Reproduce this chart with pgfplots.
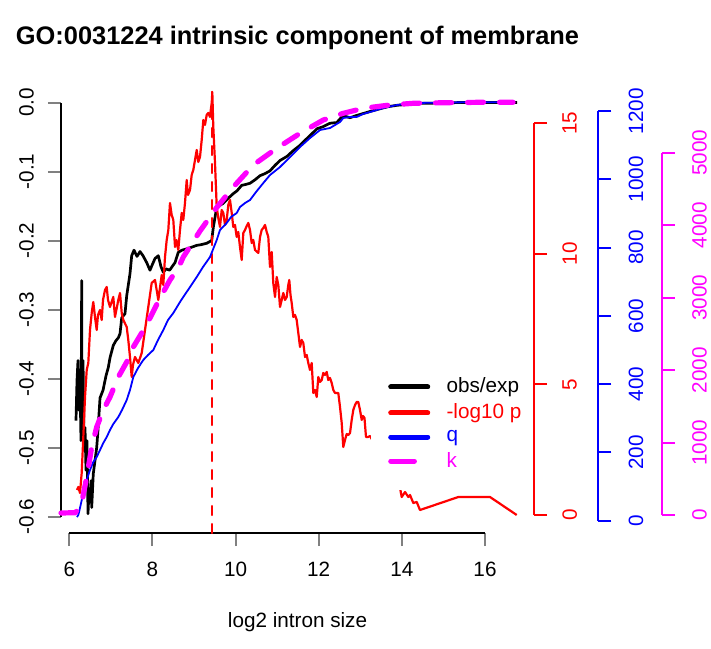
\documentclass[border=0pt]{standalone}
\usepackage{fontspec}
\setmainfont{Liberation Sans}
\usepackage{pgfplots}
\pgfplotsset{compat=1.18}
\definecolor{rred}{RGB}{255,0,0}
\definecolor{rblue}{RGB}{0,0,255}
\definecolor{rmag}{RGB}{255,0,255}

% 1 px of the reference = 0.5pt
\pgfplotsset{
  rbase/.style={
    scale only axis,
    font=\fontsize{10.35}{12.4}\selectfont,
    tick align=outside,
    major tick length=6.5pt,
    xmin=5.8003,
    every tick/.append style={line width=1pt},
  },
  rright/.style={
    rbase,
    axis x line=none,
    axis y line*=right,
    y axis line style={-, line width=1pt, #1},
    ytick style={#1},
    yticklabel style={rotate=90, anchor=north, inner sep=0pt, text=#1},
  },
  limg/.style 2 args={legend image code/.code={
    \path[draw=none, fill=none] (-8.5pt,0pt) -- (21pt,0pt);
    \draw[#1, solid, line width=2.5pt, line cap=round] (1.25pt,0pt) -- (#2,0pt);}},
}

\begin{document}
\begin{tikzpicture}
\useasboundingbox (0,0) rectangle (355.5pt,324pt);

% left axis: obs/exp
\begin{axis}[rbase,
  at={(30.5pt,57.45pt)}, width=236.525pt, height=223.56pt,
  xmax=17.18, ymin=-0.624, ymax=0.024,
  axis x line*=bottom, axis y line*=left,
  x axis line style={-, line width=1pt, shorten <=4.15pt, shorten >=24.5pt},
  y axis line style={-, line width=1pt, shorten <=8.28pt, shorten >=8.28pt},
  xtick={6,8,10,12,14,16}, xticklabels={6,8,10,12,14,16},
  ytick={-0.6,-0.5,-0.4,-0.3,-0.2,-0.1,0},
  yticklabels={-0.6,-0.5,-0.4,-0.3,-0.2,-0.1,0.0},
  yticklabel style={rotate=90, anchor=south, inner sep=0pt},
  yticklabel shift=6.85pt,
  xticklabel style={anchor=north, inner sep=0pt},
  xticklabel shift=7.75pt,
  title={GO:0031224 intrinsic component of membrane},
  title style={font=\bfseries\fontsize{12.7}{15}\selectfont,
    at={(axis description cs:0.5,1)}, anchor=base, yshift=14.95pt},
  xlabel={log2 intron size},
  xlabel style={at={(axis description cs:0.5,0)}, anchor=base, yshift=-47pt},
]
\addplot[black, line width=1.35pt, line join=round] coordinates {
(6.161,-0.461) (6.185,-0.403) (6.209,-0.374) (6.233,-0.446) (6.257,-0.403)
(6.281,-0.490) (6.298,-0.258) (6.306,-0.461) (6.330,-0.374) (6.354,-0.490)
(6.378,-0.471) (6.402,-0.533) (6.426,-0.490) (6.450,-0.596) (6.474,-0.562)
(6.498,-0.577) (6.522,-0.548) (6.539,-0.587) (6.577,-0.538) (6.659,-0.500)
(6.690,-0.475) (6.739,-0.428) (6.811,-0.417) (6.883,-0.396) (6.938,-0.384)
(6.979,-0.370) (7.058,-0.352) (7.123,-0.345) (7.179,-0.341) (7.220,-0.335)
(7.261,-0.312) (7.340,-0.306) (7.381,-0.280) (7.460,-0.248) (7.501,-0.222)
(7.556,-0.214) (7.629,-0.223) (7.701,-0.216) (7.773,-0.222) (7.862,-0.232)
(7.941,-0.243) (7.989,-0.236) (8.062,-0.226) (8.141,-0.222) (8.206,-0.238)
(8.261,-0.246) (8.326,-0.241) (8.413,-0.243) (8.495,-0.236) (8.543,-0.232)
(8.622,-0.217) (8.711,-0.214) (8.824,-0.212) (8.928,-0.210) (9.065,-0.207)
(9.168,-0.206) (9.305,-0.204) (9.426,-0.200) (9.464,-0.181) (9.546,-0.152)
(9.625,-0.149) (9.705,-0.146) (9.818,-0.139) (9.945,-0.132) (10.034,-0.128)
(10.147,-0.120) (10.227,-0.119) (10.347,-0.117) (10.467,-0.112) (10.588,-0.106)
(10.708,-0.103) (10.828,-0.099) (10.949,-0.091) (11.069,-0.084) (11.237,-0.078)
(11.381,-0.070) (11.550,-0.062) (11.718,-0.052) (11.839,-0.045) (11.959,-0.038)
(12.103,-0.035) (12.272,-0.030) (12.433,-0.029) (12.584,-0.019) (12.753,-0.022)
(12.897,-0.019) (13.065,-0.016) (13.234,-0.013) (13.474,-0.009) (13.667,-0.006)
(13.883,-0.004) (14.076,-0.003) (14.196,-0.001) (14.677,-0.001) (15.399,0)
(16.120,0) (16.770,0)
};
\end{axis}

% red axis: -log10 p
\begin{axis}[rright=rred,
  at={(30.5pt,66.5pt)}, width=236.525pt, height=196pt,
  xmax=17.18, ymin=0, ymax=15, clip=false,
  ytick={0,5,10,15}, yticklabels={0,5,10,15},
  yticklabel shift=7.5pt,
]
\addplot[rred, line width=1.1pt, line join=round] coordinates {
(6.185,0.957) (6.217,1.072) (6.257,0.842) (6.298,1.607) (6.337,2.985)
(6.378,4.516) (6.419,5.549) (6.457,5.817) (6.498,7.080) (6.539,7.731)
(6.577,8.152) (6.618,7.577) (6.659,7.080) (6.690,7.654) (6.739,7.845)
(6.779,7.463) (6.811,8.228) (6.859,8.611) (6.900,8.726) (6.931,8.228)
(6.979,7.960) (7.058,8.343) (7.099,7.577) (7.179,8.228) (7.220,8.496)
(7.261,7.731) (7.299,7.463) (7.381,7.195) (7.419,6.697) (7.460,6.047)
(7.501,5.281) (7.532,5.741) (7.580,6.047) (7.660,5.817) (7.742,6.200)
(7.821,7.080) (7.900,7.960) (7.982,8.879) (8.062,8.993) (8.141,8.228)
(8.223,9.185) (8.261,8.802) (8.302,9.874) (8.343,10.524) (8.382,10.907)
(8.422,11.940) (8.463,11.481) (8.502,11.290) (8.543,10.256) (8.579,10.524)
(8.622,10.142) (8.663,10.907) (8.704,11.558) (8.742,11.290) (8.783,11.940)
(8.824,12.820) (8.855,12.246) (8.904,12.438) (8.944,13.012) (8.983,13.203)
(9.024,13.586) (9.065,13.969) (9.103,13.509) (9.144,13.701) (9.185,14.351)
(9.224,15.117) (9.264,14.925) (9.305,15.308) (9.344,15.385) (9.385,15.231)
(9.409,15.576) (9.426,15.767) (9.440,16.188) (9.464,14.849) (9.505,13.471)
(9.546,11.787) (9.584,11.366) (9.625,11.022) (9.666,11.672) (9.705,11.558)
(9.746,11.098) (9.786,11.290) (9.825,11.864) (9.866,12.055) (9.907,11.558)
(9.945,11.022) (9.986,11.098) (10.027,10.639) (10.065,10.830) (10.106,10.256)
(10.147,9.759) (10.186,10.792) (10.227,10.907) (10.268,11.060) (10.306,11.175)
(10.347,10.907) (10.388,10.409) (10.426,10.524) (10.467,10.142) (10.547,10.027)
(10.588,10.639) (10.628,10.907) (10.667,10.983) (10.708,11.098) (10.749,10.830)
(10.787,10.639) (10.828,9.491) (10.869,10.065) (10.907,8.879) (10.949,8.343)
(10.989,9.108) (11.028,8.802) (11.069,7.960) (11.109,8.228) (11.148,8.496)
(11.189,8.228) (11.230,8.343) (11.268,8.802) (11.292,8.993) (11.321,8.419)
(11.350,8.113) (11.389,7.577) (11.429,7.654) (11.470,7.463) (11.509,6.965)
(11.550,6.429) (11.591,6.697) (11.629,6.582) (11.670,6.047) (11.711,6.123)
(11.749,5.817) (11.790,5.549) (11.831,5.817) (11.870,4.669) (11.911,4.784)
(11.952,4.516) (11.990,5.281) (12.031,5.090) (12.072,5.166) (12.110,5.434)
(12.151,5.358) (12.192,5.473) (12.230,5.166) (12.271,5.243) (12.312,5.052)
(12.351,4.784) (12.392,4.669) (12.433,4.669) (12.471,4.669) (12.512,4.133)
(12.553,3.521) (12.591,2.602) (12.632,2.870) (12.673,3.100) (12.712,3.062)
(12.753,3.138) (12.793,3.636) (12.832,4.018) (12.873,4.210) (12.913,4.325)
(12.952,4.325) (12.993,4.018) (13.034,3.636) (13.065,3.789) (13.101,3.712)
(13.137,2.985) (13.186,2.985) (13.234,3.023) (13.595,2.028) (13.956,1.033)
(13.996,0.689) (14.076,0.880) (14.155,0.689) (14.196,0.765) (14.275,0.459)
(14.357,0.498) (14.436,0.191) (15.358,0.689) (16.120,0.689) (16.763,0)
};
\addplot[rred, line width=1.1pt, dash pattern=on 4.5pt off 4.5pt, line cap=round]
  coordinates {(9.43,-0.69) (9.43,16.42)};
\end{axis}

% blue axis: q
\begin{axis}[rright=rblue,
  at={(30.5pt,63.65pt)}, width=268.65pt, height=204.85pt,
  xmax=18.725, ymin=0, ymax=1200, clip=false,
  ytick={0,200,400,600,800,1000,1200},
  yticklabels={0,200,400,600,800,1000,1200},
  yticklabel shift=8.5pt,
]
\addplot[rblue, line width=0.9pt, line join=round] coordinates {
(6.185,10.8) (6.217,16.7) (6.257,37.2) (6.337,81.1) (6.419,119.2)
(6.498,148.5) (6.577,171.9) (6.659,186.6) (6.739,207.1) (6.818,227.6)
(6.900,245.1) (6.979,265.7) (7.058,283.2) (7.179,303.7) (7.268,324.2)
(7.381,353.5) (7.460,382.8) (7.540,420.9) (7.653,447.2) (7.780,470.7)
(7.893,485.3) (8.021,500.0) (8.134,529.3) (8.261,558.5) (8.374,587.8)
(8.502,608.3) (8.663,640.6) (8.742,655.2) (8.904,684.5) (9.065,713.8)
(9.216,743.1) (9.385,772.4) (9.546,822.1) (9.625,851.4) (9.786,871.9)
(9.890,889.5) (10.027,901.2) (10.106,918.8) (10.227,930.5) (10.347,939.3)
(10.491,962.7) (10.667,989.1) (10.828,1012.5) (11.069,1036.0) (11.309,1065.2)
(11.550,1094.5) (11.790,1120.9) (12.031,1144.3) (12.272,1150.2) (12.512,1167.8)
(12.591,1179.5) (12.753,1182.4) (12.913,1182.4) (13.065,1191.2) (13.234,1197.0)
(13.554,1208.8) (13.876,1217.5) (14.196,1222.5) (14.677,1224.3) (15.471,1225.4)
(16.722,1225.4)
};
\end{axis}

% magenta axis: k, with the legend
\begin{axis}[rright=rmag,
  at={(30.5pt,66.5pt)}, width=300.35pt, height=181.15pt,
  xmax=20.25, ymin=0, ymax=5000, clip=false,
  ytick={0,1000,2000,3000,4000,5000},
  yticklabels={0,1000,2000,3000,4000,5000},
  yticklabel shift=8.5pt,
  legend cell align=left,
  legend style={at={(axis description cs:0.5158,0.4345)}, anchor=north west,
    fill=white, draw=none, inner xsep=0pt, inner ysep=8pt,
    row sep=0pt, column sep=6.15pt,
    font=\fontsize{10.35}{12.4}\selectfont},
]
\addlegendimage{limg={black}{19.75pt}}
\addlegendentry{obs/exp}
\addlegendimage{limg={rred}{19.75pt}}
\addlegendentry{\textcolor{rred}{-log10 p}}
\addlegendimage{limg={rblue}{19.75pt}}
\addlegendentry{\textcolor{rblue}{q}}
\addlegendimage{limg={rmag}{13.1pt}}
\addlegendentry{\textcolor{rmag}{k}}
\addplot[rmag, line width=2.6pt, dash pattern=on 8pt off 8pt, line cap=round,
  forget plot] coordinates {
(5.800,27.6) (6.137,31.7) (6.209,69.0) (6.298,165.6) (6.419,524.4)
(6.539,938.5) (6.659,1214.5) (6.818,1449.1) (6.979,1628.5) (7.179,1904.5)
(7.381,2111.6) (7.540,2318.6) (7.742,2511.8) (7.941,2718.8) (8.182,2994.8)
(8.422,3243.2) (8.622,3408.8) (8.742,3560.7) (9.144,3919.5) (9.546,4243.8)
(9.945,4526.7) (10.426,4830.4) (10.989,5060.8) (11.550,5267.8) (12.110,5451.5)
(12.591,5543.9) (13.072,5612.9) (13.714,5658.4) (14.275,5681.9) (15.079,5690.2)
(15.880,5695.7) (16.674,5695.7)
};
\end{axis}
\end{tikzpicture}
\end{document}
